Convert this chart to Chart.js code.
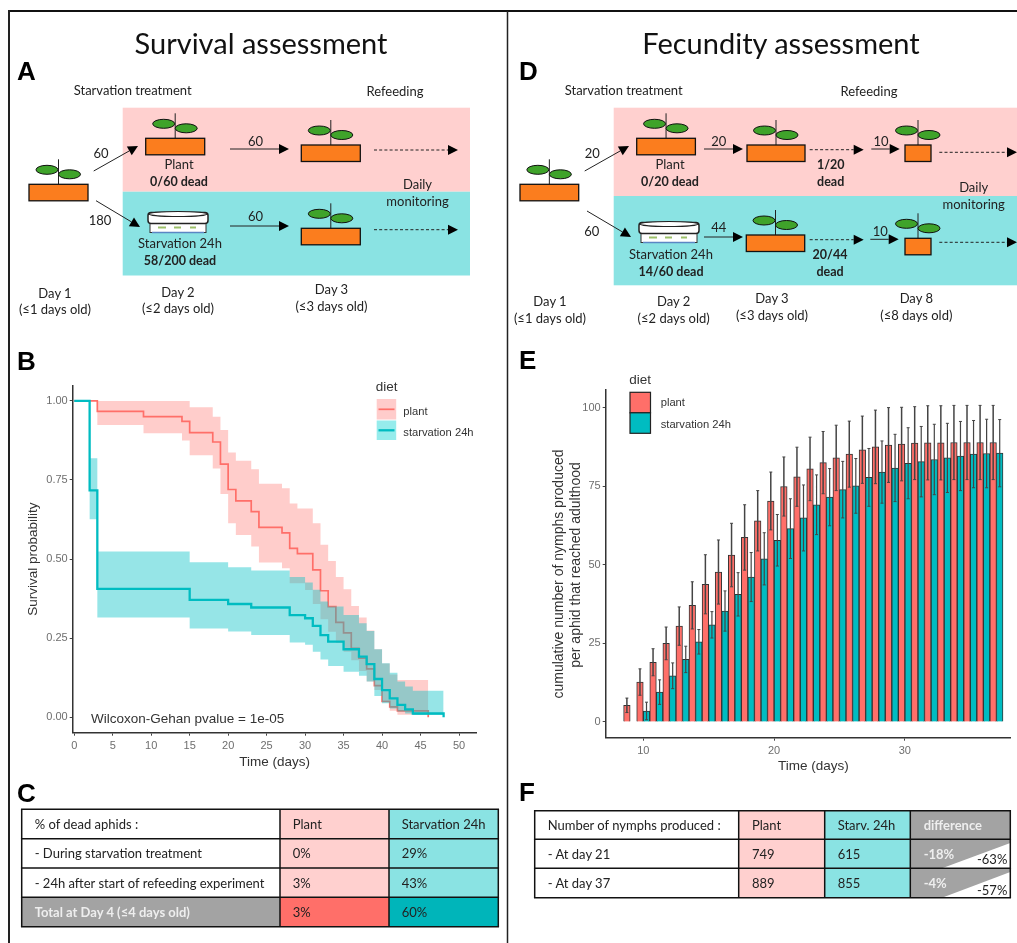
<!DOCTYPE html>
<html>
<head>
<meta charset="utf-8">
<title>Survival and fecundity assessment</title>
<script src="https://cdn.jsdelivr.net/npm/chart.js@4"></script>
<style>
  html, body { margin: 0; padding: 0; background: #fff; overflow: hidden; }
  #page { position: relative; width: 1017px; height: 943px; filter: blur(0.35px); }
  #art { position: absolute; left: 0; top: 0; }
  canvas { position: absolute; }
</style>
</head>
<body>
<div id="page">
  <svg id="art" width="1017" height="943" xmlns="http://www.w3.org/2000/svg"></svg>
  <canvas id="survivalChart" width="488" height="400" style="left:12px;top:376px"></canvas>
  <canvas id="nymphChart" width="500" height="400" style="left:517px;top:380px"></canvas>
</div>
<script>
// panel B, survival curves
const plantTimes = [0, 3, 9, 14, 15, 18, 19, 20, 21, 23, 24, 27, 28, 29, 30, 31, 32, 33, 34, 35, 36, 37, 38, 39, 40, 41, 42, 46];
const plantSurvival = [1, 0.967, 0.95, 0.935, 0.9, 0.87, 0.8, 0.72, 0.684, 0.65, 0.6, 0.583, 0.534, 0.517, 0.517, 0.466, 0.4, 0.35, 0.3, 0.267, 0.218, 0.187, 0.153, 0.1, 0.05, 0.033, 0.02, 0];
const plantUpper = [1, 1, 1, 1, 0.98, 0.95, 0.908, 0.837, 0.811, 0.784, 0.738, 0.724, 0.676, 0.66, 0.66, 0.613, 0.545, 0.494, 0.443, 0.405, 0.352, 0.315, 0.274, 0.215, 0.17, 0.135, 0.118, 0.118];
const plantLower = [1, 0.924, 0.898, 0.875, 0.828, 0.786, 0.706, 0.613, 0.576, 0.54, 0.489, 0.471, 0.424, 0.424, 0.402, 0.358, 0.31, 0.27, 0.235, 0.207, 0.18, 0.146, 0.113, 0.086, 0.053, 0.021, 0.008, 0.008];

const starvTimes = [0, 2, 3, 15, 20, 23, 28, 30, 31, 32, 33, 35, 37, 38, 39, 40, 41, 42, 43, 44, 48];
const starvSurvival = [1, 0.717, 0.406, 0.371, 0.358, 0.347, 0.323, 0.313, 0.289, 0.26, 0.239, 0.215, 0.192, 0.168, 0.121, 0.086, 0.06, 0.039, 0.025, 0.012, 0];
const starvUpper = [1, 0.819, 0.524, 0.49, 0.474, 0.464, 0.443, 0.426, 0.403, 0.366, 0.35, 0.323, 0.297, 0.273, 0.215, 0.171, 0.141, 0.113, 0.097, 0.084, 0.084];
const starvLower = [1, 0.626, 0.315, 0.281, 0.271, 0.26, 0.236, 0.229, 0.207, 0.183, 0.162, 0.144, 0.131, 0.113, 0.067, 0.044, 0.028, 0.018, 0.012, 0.007, 0.007];

const survivalXTicks = [0, 5, 10, 15, 20, 25, 30, 35, 40, 45, 50];
const survivalYTicks = [0, 0.25, 0.5, 0.75, 1];

// panel E, cumulative nymphs per aphid
const nymphDays = [9, 10, 11, 12, 13, 14, 15, 16, 17, 18, 19, 20, 21, 22, 23, 24, 25, 26, 27, 28, 29, 30, 31, 32, 33, 34, 35, 36, 37];
const nymphPlant = [5.3, 12.7, 19, 25, 30.5, 37.1, 43.8, 47.7, 53.1, 58.7, 64, 70.3, 74.9, 78, 80.5, 82.5, 84, 85.2, 86.6, 87.5, 88.1, 88.4, 88.7, 88.8, 88.8, 88.9, 88.9, 88.9, 88.9];
const nymphStarv = [0, 3.5, 9.5, 14.7, 19.9, 25.5, 30.9, 35.3, 40.6, 46.1, 51.9, 57.8, 61.5, 64.9, 69.1, 71.5, 73.9, 75.1, 77.8, 79.5, 80.8, 82.3, 82.8, 83.5, 84, 84.6, 85.2, 85.4, 85.5];
const errPlant = [2.3, 4.2, 4.3, 5.2, 6.1, 7.5, 9.4, 10.2, 10.1, 10.4, 9.6, 9.2, 9.4, 9.4, 10.1, 9.9, 10.4, 10.5, 10.7, 11.7, 11.9, 11.7, 11.6, 11.8, 11.8, 11.8, 11.8, 11.8, 11.8];
const errStarv = [0, 2.8, 3.9, 4.1, 4.2, 3.9, 4.2, 6.4, 6.9, 7.8, 8.3, 8.2, 9.5, 10.5, 9.5, 9.1, 9, 8.7, 9.2, 9.9, 10.7, 11.3, 11.2, 11.2, 11, 11, 10.7, 10.9, 10.7];

const nymphXTicks = [10, 20, 30];
const nymphYTicks = [0, 25, 50, 75, 100];

const PLANT = "#ff6f69";
const STARV = "#00bcc1";
const PINK = "#ffd0cf";
const AQUA = "#8ae3e3";

Chart.defaults.font.family = '"Liberation Sans", Arial, sans-serif';
Chart.defaults.font.size = 11;

function steps(times, values) {
  return times.map((t, i) => ({ x: t, y: values[i] }));
}

function axis(min, max, tickList, fitSize, isY) {
  return {
    type: "linear",
    offset: false,
    min: min,
    max: max,
    afterBuildTicks: (scale) => {
      scale.ticks = tickList.map((v) => ({ value: v }));
    },
    afterFit: (scale) => {
      if (isY) scale.width = fitSize;
      else scale.height = fitSize;
    },
    grid: { offset: false, drawOnChartArea: false, tickLength: 3, tickColor: "#444", tickWidth: 1 },
    border: { color: "#333", width: 1.5 },
    ticks: { color: "#6e6e6e", padding: isY ? 2 : 4, autoSkip: false, maxRotation: 0 },
  };
}

const survivalX = axis(-0.2, 52.3, survivalXTicks, 43.3, false);
survivalX.title = { display: true, text: "Time (days)", color: "#333", font: { size: 13.5 }, padding: { top: 2, bottom: 5.2 } };
const survivalY = axis(-0.0487, 1.048, survivalYTicks, 60.7, true);
survivalY.ticks.callback = (v) => v.toFixed(2);
survivalY.title = { display: true, text: "Survival probability", color: "#333", font: { size: 13.5 }, padding: { top: 13, bottom: 2 } };

new Chart(document.getElementById("survivalChart"), {
  type: "line",
  data: {
    datasets: [
      { label: "plant upper", data: steps(plantTimes, plantUpper), fill: 1, backgroundColor: "rgba(255,111,105,0.35)", borderWidth: 0, order: 4 },
      { label: "plant lower", data: steps(plantTimes, plantLower), borderWidth: 0, order: 4 },
      { label: "plant", data: steps(plantTimes, plantSurvival), borderColor: PLANT, borderWidth: 1.7, order: 3 },
      { label: "starvation upper", data: steps(starvTimes, starvUpper), fill: 4, backgroundColor: "rgba(0,191,196,0.41)", borderWidth: 0, order: 2 },
      { label: "starvation lower", data: steps(starvTimes, starvLower), borderWidth: 0, order: 2 },
      { label: "starvation 24h", data: steps(starvTimes, starvSurvival), borderColor: STARV, borderWidth: 2.3, order: 1 },
    ],
  },
  options: {
    responsive: false,
    animation: false,
    layout: { padding: { top: 9.7, right: 23.3, left: 0, bottom: 0 } },
    elements: { point: { radius: 0 }, line: { stepped: true, tension: 0 } },
    plugins: { legend: { display: false }, tooltip: { enabled: false } },
    scales: { x: survivalX, y: survivalY },
  },
});

function errorPoints(means, errs, shift) {
  const points = [];
  nymphDays.forEach((day, i) => {
    if (errs[i] === 0) return;
    points.push({ x: day + shift, y: means[i] - errs[i] });
    points.push({ x: day + shift, y: means[i] + errs[i] });
    points.push({ x: day + shift, y: null });
  });
  return points;
}

const nymphX = axis(7.13, 38.09, nymphXTicks, 42.3, false);
const nymphY = axis(-5, 105.6, nymphYTicks, 88.7, true);

function errorStyle(width) {
  return { borderColor: "#444", borderWidth: width, pointStyle: "line", pointRadius: 1.5, pointBorderColor: "#444", pointBorderWidth: 1, spanGaps: false, order: 0 };
}

new Chart(document.getElementById("nymphChart"), {
  type: "bar",
  data: {
    datasets: [
      { type: "line", label: "plant sd", data: errorPoints(nymphPlant, errPlant, -0.25), ...errorStyle(1.5) },
      { type: "line", label: "starvation sd", data: errorPoints(nymphStarv, errStarv, 0.25), ...errorStyle(1.2) },
      { label: "plant", data: nymphDays.map((d, i) => ({ x: d, y: nymphPlant[i] })), backgroundColor: PLANT, borderColor: "#333", borderWidth: 1, order: 1 },
      { label: "starvation 24h", data: nymphDays.map((d, i) => ({ x: d, y: nymphStarv[i] })), backgroundColor: STARV, borderColor: "#333", borderWidth: 1, order: 1 },
    ],
  },
  options: {
    responsive: false,
    animation: false,
    layout: { padding: { top: 10, right: 6.3, left: 0, bottom: 0 } },
    datasets: { bar: { categoryPercentage: 1, barPercentage: 1 } },
    plugins: { legend: { display: false }, tooltip: { enabled: false } },
    scales: { x: nymphX, y: nymphY },
  },
});

// everything round the two plots: the schematics, tables and legends
let art = "";

function txt(x, y, s, o = {}) {
  const fam = o.font || "Lato";
  const size = o.size || (o.bold ? 12.5 : 13);
  const turn = o.turn ? ` transform="rotate(-90 ${x} ${y})"` : "";
  art += `<text x="${x}" y="${y}" font-family="${fam}, sans-serif" font-size="${size}" fill="${o.fill || "#222"}"` +
    ` font-weight="${o.bold ? "bold" : "normal"}" text-anchor="${o.anchor || "middle"}" dominant-baseline="central"${turn}>${s}</text>`;
}

function box(x, y, w, h, fill, stroke, sw) {
  art += `<rect x="${x}" y="${y}" width="${w}" height="${h}" fill="${fill}"` +
    (stroke ? ` stroke="${stroke}" stroke-width="${sw || 1}"` : "") + "/>";
}

function line(x1, y1, x2, y2, color, sw, dash) {
  art += `<line x1="${x1}" y1="${y1}" x2="${x2}" y2="${y2}" stroke="${color}" stroke-width="${sw}"` +
    (dash ? ` stroke-dasharray="${dash}"` : "") + "/>";
}

function arrow(x1, y1, x2, y2, dashed) {
  const a = Math.atan2(y2 - y1, x2 - x1);
  const bx = x2 - 10 * Math.cos(a);
  const by = y2 - 10 * Math.sin(a);
  line(x1, y1, bx, by, "#222", 1, dashed ? "3 2.2" : null);
  const nx = -Math.sin(a) * 5;
  const ny = Math.cos(a) * 5;
  art += `<polygon points="${x2},${y2} ${bx + nx},${by + ny} ${bx - nx},${by - ny}" fill="#000"/>`;
}

function leaf(cx, cy) {
  art += `<ellipse cx="${cx}" cy="${cy}" rx="11" ry="4.5" fill="#3fa32a" stroke="#111" stroke-width="1"/>`;
}

function plant(x, y, w) {
  const cx = x + w / 2;
  line(cx, y - 25, cx, y, "#222", 1);
  leaf(cx - 11.5, y - 14.5);
  leaf(cx + 11, y - 10);
  box(x, y, w, 16.5, "#fb7d1e", "#111", 1.3);
}

function dish(x, y) {
  box(x + 2, y + 8, 56, 13, "#fff", "#333", 1);
  line(x + 4, y + 21, x + 56, y + 21, "#5b86c4", 1.6);
  line(x + 10, y + 16, x + 18, y + 16, "#9cc06a", 2);
  line(x + 26, y + 16, x + 33, y + 16, "#9cc06a", 2);
  line(x + 42, y + 16, x + 48, y + 16, "#9cc06a", 2);
  art += `<rect x="${x}" y="${y + 1}" width="60" height="11" rx="3" fill="#fff" stroke="#222" stroke-width="1.5"/>`;
  art += `<ellipse cx="${x + 30}" cy="${y + 2.5}" rx="29" ry="2.5" fill="#fff" stroke="#222" stroke-width="1.2"/>`;
}

// frame
line(9, 11, 1017, 11, "#111", 2);
line(9, 10, 9, 943, "#222", 2);
line(507.5, 11, 507.5, 943, "#222", 1.5);

// titles and panel letters
txt(261, 42, "Survival assessment", { size: 29, fill: "#111" });
txt(781, 42, "Fecundity assessment", { size: 29, fill: "#111" });
const letter = { font: "Liberation Sans", size: 26, bold: true, fill: "#000", anchor: "start" };
txt(17, 71, "A", letter);
txt(519, 71, "D", letter);
txt(17, 361, "B", letter);
txt(519, 360, "E", letter);
txt(17, 793, "C", letter);
txt(519, 792, "F", letter);

// panel A
box(122.7, 107.7, 347.3, 84, PINK);
box(122.7, 191.7, 347.3, 83.8, AQUA);
txt(132.7, 90.3, "Starvation treatment");
txt(395, 91, "Refeeding");
plant(29, 184.3, 59);
plant(145.7, 138.3, 59);
plant(301.3, 145, 59);
plant(301.3, 228.3, 59);
dish(148, 211.5);
arrow(93.7, 171, 138, 146);
arrow(96, 200.7, 140, 227);
arrow(230, 149, 289, 149);
arrow(230, 226, 289, 226);
arrow(374, 150, 458, 150, true);
arrow(374, 229.7, 458, 229.7, true);
txt(101, 152.5, "60");
txt(100, 219.5, "180");
txt(255.5, 140.5, "60");
txt(255.5, 216, "60");
txt(179, 164, "Plant");
txt(179, 181, "0/60 dead", { bold: true });
txt(180, 243, "Starvation 24h");
txt(180, 260, "58/200 dead", { bold: true });
txt(417.5, 183.5, "Daily");
txt(417.5, 200.5, "monitoring");
txt(55, 292.5, "Day 1");
txt(55, 309, "(≤1 days old)");
txt(178, 291.5, "Day 2");
txt(178, 308, "(≤2 days old)");
txt(331.5, 288.5, "Day 3");
txt(331.5, 305.5, "(≤3 days old)");

// panel D
box(613.7, 107.7, 403.3, 88.3, PINK);
box(613.7, 196, 403.3, 89.3, AQUA);
txt(623.7, 90.3, "Starvation treatment");
txt(869, 91, "Refeeding");
plant(520, 184.3, 58.7);
plant(636.7, 138.3, 58.7);
plant(747, 145, 58);
plant(746.3, 235, 58.4);
plant(905, 145, 26);
plant(905, 238.3, 26);
dish(639, 221.5);
arrow(584.7, 171, 629, 146);
arrow(587, 211, 631, 237);
arrow(704, 149, 743, 149);
arrow(704, 237, 743, 237);
arrow(809.7, 149.7, 863.7, 149.7, true);
arrow(809.7, 239.7, 863.7, 239.7, true);
arrow(871.3, 149, 899.7, 149);
arrow(870.3, 239.3, 898.7, 239.3);
arrow(939.3, 152.3, 1017, 152.3, true);
arrow(939.3, 242.3, 1017, 242.3, true);
txt(592.3, 152.5, "20");
txt(591.7, 230.5, "60");
txt(718.7, 141, "20");
txt(718.7, 227, "44");
txt(881, 141, "10");
txt(880.3, 230.5, "10");
txt(670, 164, "Plant");
txt(670, 181, "0/20 dead", { bold: true });
txt(671, 254, "Starvation 24h");
txt(671, 271, "14/60 dead", { bold: true });
txt(830.7, 164, "1/20", { bold: true });
txt(830.7, 181, "dead", { bold: true });
txt(830, 254, "20/44", { bold: true });
txt(830, 271, "dead", { bold: true });
txt(973.7, 187, "Daily");
txt(973.7, 204, "monitoring");
txt(550, 301, "Day 1");
txt(550, 318, "(≤1 days old)");
txt(673.7, 300.5, "Day 2");
txt(673.7, 317.5, "(≤2 days old)");
txt(772, 298, "Day 3");
txt(772, 314.5, "(≤3 days old)");
txt(916.3, 298, "Day 8");
txt(916.3, 314.5, "(≤8 days old)");

// legends of B and E
const legendFont = { font: "Liberation Sans", size: 11.2, anchor: "start", fill: "#333" };
const legendHead = { font: "Liberation Sans", size: 13.5, anchor: "start", fill: "#333" };
txt(375.7, 386, "diet", legendHead);
box(376.7, 399, 19.5, 20.5, "#ffcccb");
box(376.7, 420.5, 19.5, 19.5, "#96ecec");
line(378.5, 409.3, 394.5, 409.3, PLANT, 1.7);
line(378.5, 430.3, 394.5, 430.3, STARV, 2.3);
txt(403.3, 410.7, "plant", legendFont);
txt(403.3, 432, "starvation 24h", legendFont);
txt(91, 718, "Wilcoxon-Gehan pvalue = 1e-05", { font: "Liberation Sans", size: 13.5, anchor: "start", fill: "#333" });

txt(629.3, 379, "diet", legendHead);
box(630, 392.3, 20.5, 20.5, PLANT, "#222", 1.2);
box(630, 412.8, 20.5, 20.5, STARV, "#222", 1.2);
txt(660.7, 402.3, "plant", legendFont);
txt(660.7, 424, "starvation 24h", legendFont);

// axis titles of E sit off centre in the reference
const nymphTitle = { font: "Liberation Sans", size: 14, fill: "#333", turn: true };
txt(558, 574, "cumulative number of nymphs produced", nymphTitle);
txt(575, 565, "per aphid that reached adulthood", nymphTitle);
txt(813.3, 765.7, "Time (days)", { font: "Liberation Sans", size: 13.5, fill: "#333" });

// tables C and F
function table(xs, ys, fills) {
  fills.forEach((row, r) => row.forEach((fill, c) => {
    box(xs[c], ys[r], xs[c + 1] - xs[c], ys[r + 1] - ys[r], fill);
  }));
}
function tableLines(xs, ys) {
  ys.forEach((y) => line(xs[0] - 0.75, y, xs[xs.length - 1] + 0.75, y, "#111", 1.5));
  xs.forEach((x) => line(x, ys[0], x, ys[ys.length - 1], "#111", 1.5));
}

const cX = [21.7, 280, 389, 498.3];
const cY = [809.3, 838.7, 868, 897.3, 926.7];
table(cX, cY, [
  ["#fff", PINK, AQUA],
  ["#fff", PINK, AQUA],
  ["#fff", PINK, AQUA],
  ["#a3a3a3", "#ff6f69", "#00b5ba"],
]);
tableLines(cX, cY);
const cellC = { size: 13, anchor: "start" };
txt(34.7, 824, "% of dead aphids :", cellC);
txt(292.7, 824, "Plant", cellC);
txt(401.7, 824, "Starvation 24h", cellC);
txt(34.7, 853, "- During starvation treatment", cellC);
txt(292.7, 853, "0%", cellC);
txt(401.7, 853, "29%", cellC);
txt(34.7, 882.5, "- 24h after start of refeeding experiment", cellC);
txt(292.7, 882.5, "3%", cellC);
txt(401.7, 882.5, "43%", cellC);
txt(34.7, 912, "Total at Day 4 (≤4 days old)", { size: 13, anchor: "start", bold: true, fill: "#eee" });
txt(292.7, 912, "3%", cellC);
txt(401.7, 912, "60%", cellC);

const fX = [534.7, 738.7, 824.7, 910.3, 1010.3];
const fY = [810.7, 839.3, 868.3, 897.7];
table(fX, fY, [
  ["#fff", PINK, AQUA, "#a3a3a3"],
  ["#fff", PINK, AQUA, "#a3a3a3"],
  ["#fff", PINK, AQUA, "#a3a3a3"],
]);
art += `<polygon points="942,868.3 1010.3,843 1010.3,868.3" fill="#fff"/>`;
art += `<polygon points="942,897.7 1010.3,872 1010.3,897.7" fill="#fff"/>`;
tableLines(fX, fY);
const cellF = { size: 13, anchor: "start" };
const cellGrey = { size: 13, anchor: "start", bold: true, fill: "#eee" };
txt(547.7, 825, "Number of nymphs produced :", cellF);
txt(752, 825, "Plant", cellF);
txt(837.7, 825, "Starv. 24h", cellF);
txt(923.7, 825, "difference", cellGrey);
txt(547.7, 854, "- At day 21", cellF);
txt(752, 854, "749", cellF);
txt(837.7, 854, "615", cellF);
txt(923.7, 854, "-18%", cellGrey);
txt(977, 859, "-63%", cellF);
txt(547.7, 883, "- At day 37", cellF);
txt(752, 883, "889", cellF);
txt(837.7, 883, "855", cellF);
txt(923.7, 883, "-4%", cellGrey);
txt(977, 890, "-57%", cellF);

document.getElementById("art").innerHTML = art;
</script>
</body>
</html>
